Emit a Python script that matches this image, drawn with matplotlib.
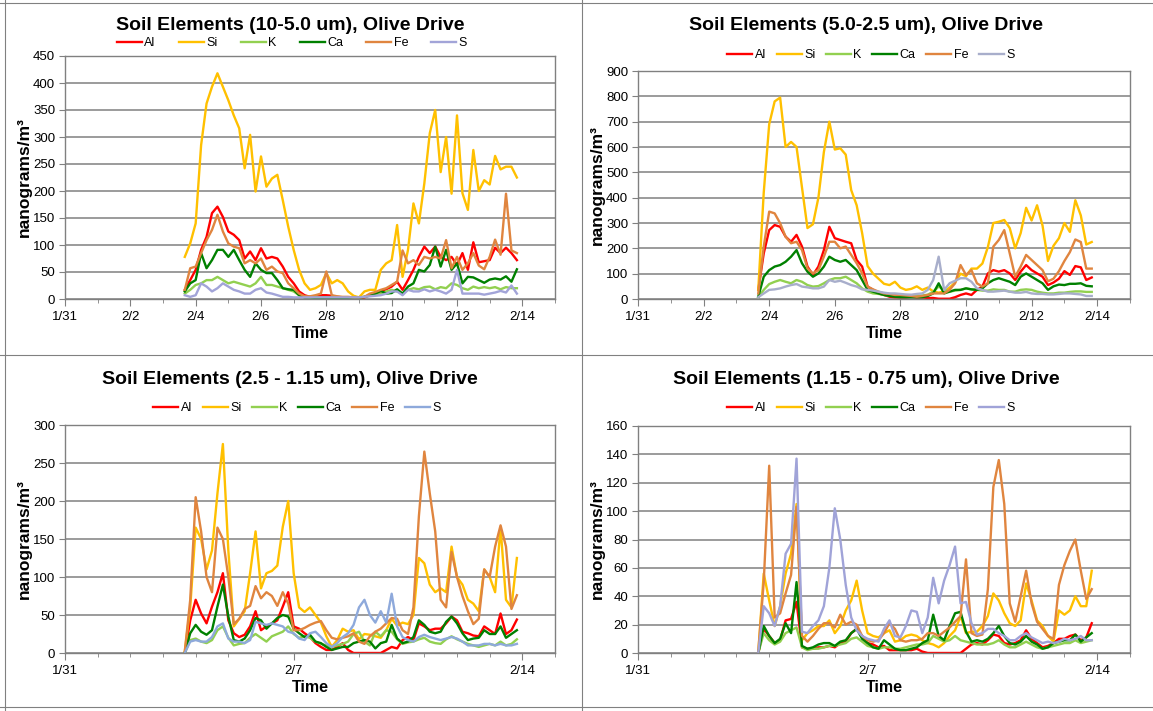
import matplotlib
matplotlib.use("Agg")
import matplotlib.pyplot as plt
import matplotlib.dates as mdates
from matplotlib.lines import Line2D
from matplotlib.ticker import FuncFormatter, MultipleLocator
import pandas as pd

plt.rcParams['font.family'] = ['Liberation Sans', 'DejaVu Sans']

# 4-hour samples, 2/3 16:00 -> 2/13 20:00
times = pd.date_range("2012-02-03 16:00", periods=62, freq="4h")
elements = ["Al", "Si", "K", "Ca", "Fe", "S"]

# ---- 10-5.0 um ----
p1_al = [17, 35, 54, 91, 115, 159, 171, 152, 125, 119,
         109, 75, 88, 72, 94, 75, 78, 75, 60, 41,
         29, 14, 7, 4, 4, 7, 7, 6, 4, 3,
         3, 3, 1, 3, 7, 10, 14, 18, 23, 32,
         17, 35, 54, 78, 97, 85, 97, 78, 72, 78,
         63, 85, 54, 105, 68, 70, 72, 95, 85, 95,
         85, 72]
p1_si = [78, 103, 140, 285, 362, 393, 418, 393, 368, 340,
         316, 242, 304, 199, 264, 208, 223, 230, 183, 134,
         91, 54, 29, 17, 20, 26, 48, 29, 35, 29,
         14, 6, 3, 14, 17, 17, 54, 66, 72, 137,
         41, 91, 177, 140, 214, 307, 350, 235, 300, 195,
         340, 196, 165, 276, 200, 220, 212, 265, 240, 245,
         245, 225]
p1_k = [10, 17, 26, 29, 35, 35, 41, 35, 29, 32,
        29, 26, 23, 29, 41, 26, 26, 23, 20, 17,
        14, 7, 4, 3, 3, 3, 3, 3, 3, 3,
        3, 3, 3, 4, 6, 8, 10, 14, 17, 14,
        10, 17, 20, 18, 22, 23, 18, 22, 20, 29,
        26, 20, 17, 23, 20, 22, 20, 22, 18, 22,
        20, 20]
p1_ca = [14, 29, 35, 85, 57, 72, 91, 91, 78, 91,
         72, 54, 41, 66, 54, 48, 48, 35, 20, 18,
         17, 7, 3, 3, 2, 2, 2, 2, 2, 2,
         2, 2, 2, 4, 7, 10, 15, 10, 11, 18,
         10, 23, 29, 54, 51, 63, 97, 60, 91, 54,
         66, 29, 41, 40, 35, 30, 36, 38, 36, 42,
         32, 55]
p1_fe = [17, 57, 60, 85, 109, 128, 156, 125, 103, 97,
         94, 66, 72, 66, 75, 54, 60, 51, 48, 29,
         20, 10, 5, 5, 7, 10, 51, 7, 5, 4,
         4, 3, 3, 4, 10, 13, 17, 20, 26, 32,
         90, 66, 72, 63, 78, 75, 78, 75, 109, 57,
         78, 54, 66, 85, 62, 55, 78, 110, 82, 195,
         90, 85]
p1_s = [7, 4, 7, 29, 23, 14, 20, 29, 23, 17,
        14, 10, 10, 17, 20, 12, 10, 7, 4, 4,
        3, 3, 3, 3, 3, 3, 3, 3, 3, 3,
        3, 3, 3, 4, 5, 6, 7, 10, 14, 14,
        7, 17, 14, 14, 18, 14, 17, 14, 10, 17,
        54, 10, 10, 10, 10, 8, 10, 12, 15, 12,
        25, 10]

# ---- 5.0-2.5 um ----
p2_al = [36, 180, 272, 292, 285, 246, 226, 253, 207, 128,
         95, 128, 193, 285, 240, 233, 226, 220, 154, 128,
         49, 36, 22, 16, 9, 7, 7, 7, 9, 7,
         7, 4, 4, 1, 1, 1, 7, 16, 22, 16,
         36, 49, 101, 114, 108, 114, 101, 75, 108, 134,
         114, 101, 88, 55, 65, 80, 110, 95, 130, 125,
         75, 85]
p2_si = [36, 420, 690, 780, 795, 600, 620, 600, 440, 280,
         295, 400, 580, 700, 590, 595, 570, 430, 370, 260,
         130, 100, 80, 60, 55, 68, 45, 36, 40, 50,
         36, 45, 30, 25, 30, 45, 65, 100, 90, 120,
         120, 140, 205, 300, 305, 312, 280, 200, 260, 360,
         310, 370, 290, 150, 210, 240, 300, 265, 390, 330,
         215, 225]
p2_k = [7, 36, 59, 68, 75, 68, 62, 75, 68, 55,
        49, 51, 62, 75, 82, 82, 88, 75, 62, 42,
        29, 22, 20, 16, 14, 14, 12, 12, 12, 12,
        14, 17, 29, 49, 36, 29, 33, 36, 42, 38,
        36, 33, 33, 38, 36, 36, 29, 29, 36, 38,
        36, 29, 25, 22, 22, 25, 25, 28, 30, 30,
        28, 28]
p2_ca = [9, 88, 114, 128, 134, 147, 167, 193, 141, 108,
         88, 101, 128, 167, 154, 147, 154, 134, 114, 75,
         36, 29, 22, 16, 12, 9, 7, 7, 7, 7,
         7, 12, 22, 62, 22, 29, 36, 36, 42, 38,
         36, 42, 62, 75, 82, 75, 68, 55, 88, 101,
         88, 75, 62, 36, 50, 57, 55, 60, 60, 62,
         52, 50]
p2_fe = [22, 207, 345, 338, 299, 246, 220, 226, 193, 121,
         101, 114, 167, 226, 226, 200, 207, 174, 141, 101,
         49, 38, 29, 22, 20, 16, 16, 14, 12, 9,
         12, 16, 22, 22, 22, 36, 62, 134, 95, 114,
         62, 49, 62, 207, 233, 272, 180, 88, 128, 174,
         154, 134, 114, 70, 80, 110, 150, 185, 235, 225,
         120, 120]
p2_s = [7, 22, 36, 38, 42, 49, 55, 59, 49, 46,
        42, 42, 49, 75, 68, 72, 64, 55, 49, 38,
        36, 33, 29, 25, 22, 22, 20, 18, 17, 20,
        22, 36, 75, 167, 36, 62, 72, 82, 82, 68,
        42, 36, 29, 29, 31, 33, 29, 25, 25, 28,
        22, 20, 20, 18, 18, 20, 22, 22, 20, 18,
        12, 12]

# ---- 2.5-1.15 um ----
p3_al = [0, 43, 70, 52, 39, 61, 80, 105, 43, 26,
         21, 24, 35, 55, 30, 35, 39, 43, 61, 80,
         35, 32, 26, 21, 13, 8, 4, 4, 8, 13,
         4, 0, 0, 0, 0, 0, 0, 4, 8, 6,
         17, 21, 17, 39, 35, 30, 32, 32, 39, 48,
         43, 28, 26, 23, 22, 35, 30, 25, 52, 25,
         30, 44]
p3_si = [2, 60, 165, 150, 110, 135, 210, 275, 135, 35,
         45, 55, 105, 160, 85, 105, 108, 115, 166, 200,
         105, 60, 54, 60, 50, 40, 22, 8, 17, 32,
         28, 30, 18, 25, 24, 22, 20, 30, 45, 36,
         40, 38, 50, 125, 118, 90, 80, 85, 80, 140,
         100, 90, 70, 65, 55, 110, 100, 80, 165, 70,
         60, 125]
p3_k = [0, 17, 19, 15, 13, 17, 30, 35, 20, 10,
        12, 13, 20, 25, 20, 15, 22, 25, 28, 35,
        25, 20, 22, 20, 15, 12, 10, 8, 10, 12,
        15, 25, 28, 15, 10, 28, 22, 30, 28, 18,
        12, 14, 15, 18, 20, 15, 13, 12, 18, 22,
        18, 15, 12, 10, 8, 10, 12, 10, 15, 10,
        12, 18]
p3_ca = [0, 26, 37, 28, 24, 30, 61, 90, 48, 17,
         15, 19, 30, 46, 43, 32, 39, 46, 50, 48,
         32, 26, 21, 24, 15, 13, 8, 4, 6, 8,
         8, 13, 15, 17, 15, 6, 13, 15, 37, 19,
         13, 15, 21, 43, 37, 28, 26, 28, 41, 48,
         39, 26, 17, 19, 20, 30, 25, 25, 35, 20,
         25, 30]
p3_fe = [2, 70, 205, 160, 100, 80, 165, 150, 100, 38,
         45, 58, 62, 88, 72, 80, 75, 62, 80, 65,
         30, 30, 33, 37, 40, 42, 30, 20, 18, 20,
         22, 26, 15, 12, 22, 28, 32, 39, 46, 45,
         30, 25, 60, 180, 265, 210, 160, 70, 60, 133,
         100, 75, 55, 38, 45, 110, 100, 140, 168, 140,
         58, 76]
p3_s = [0, 15, 17, 15, 15, 21, 35, 39, 19, 15,
        15, 13, 17, 41, 39, 37, 39, 37, 35, 28,
        26, 19, 17, 26, 28, 21, 13, 8, 13, 21,
        26, 37, 60, 70, 50, 40, 55, 40, 78, 35,
        21, 17, 15, 21, 24, 21, 19, 17, 19, 21,
        19, 15, 10, 10, 10, 12, 12, 10, 12, 10,
        10, 12]

# ---- 1.15-0.75 um ----
p4_al = [0, 17, 12, 7, 9, 23, 24, 36, 4, 3,
         3, 4, 4, 5, 4, 7, 8, 14, 17, 12,
         7, 6, 4, 5, 2, 2, 2, 2, 2, 3,
         1, 0, 0, 0, 0, 0, 0, 0, 3, 6,
         7, 6, 9, 13, 12, 7, 6, 7, 9, 16,
         10, 7, 4, 5, 7, 10, 10, 12, 13, 9,
         11, 21]
p4_si = [0, 56, 37, 19, 33, 56, 70, 105, 9, 14,
         16, 19, 19, 23, 14, 19, 30, 37, 51, 30,
         14, 12, 11, 14, 16, 8, 9, 12, 13, 12,
         9, 7, 6, 4, 7, 12, 16, 26, 14, 15,
         15, 19, 26, 42, 37, 28, 21, 19, 23, 49,
         37, 23, 19, 12, 8, 30, 27, 30, 40, 33,
         33, 58]
p4_k = [0, 14, 9, 6, 8, 14, 16, 18, 4, 2,
        3, 3, 4, 5, 5, 6, 7, 10, 11, 8,
        5, 4, 3, 4, 4, 3, 3, 4, 5, 6,
        6, 7, 12, 10, 8, 9, 12, 9, 8, 7,
        6, 6, 6, 7, 9, 6, 4, 4, 6, 8,
        6, 4, 3, 4, 5, 6, 7, 7, 9, 7,
        8, 9]
p4_ca = [0, 19, 12, 7, 10, 21, 14, 50, 5, 3,
         4, 6, 7, 7, 5, 8, 9, 14, 17, 10,
         7, 4, 3, 9, 6, 3, 2, 2, 3, 4,
         7, 9, 27, 12, 9, 19, 28, 29, 15, 8,
         9, 8, 10, 14, 19, 12, 7, 6, 8, 12,
         8, 6, 3, 4, 7, 8, 9, 9, 13, 8,
         11, 14]
p4_fe = [1, 50, 132, 25, 28, 42, 55, 103, 12, 8,
         12, 17, 21, 21, 18, 27, 20, 22, 20, 12,
         9, 8, 9, 14, 21, 17, 9, 8, 9, 9,
         10, 14, 14, 12, 15, 18, 22, 26, 66, 14,
         12, 13, 45, 117, 136, 105, 35, 22, 40, 58,
         35, 22, 17, 12, 10, 48, 62, 72, 80, 58,
         38, 45]
p4_s = [0, 33, 28, 19, 33, 70, 77, 137, 15, 14,
        19, 23, 33, 60, 102, 80, 48, 25, 16, 12,
        10, 9, 8, 17, 23, 12, 11, 19, 30, 29,
        14, 25, 53, 35, 51, 62, 75, 35, 36, 21,
        13, 14, 17, 17, 14, 12, 9, 9, 12, 14,
        11, 9, 7, 8, 7, 8, 10, 9, 10, 12,
        9, 9]

titles = ["Soil Elements (10-5.0 um), Olive Drive",
          "Soil Elements (5.0-2.5 um), Olive Drive",
          "Soil Elements (2.5 - 1.15 um), Olive Drive",
          "Soil Elements (1.15 - 0.75 um), Olive Drive"]
panel_data = [
    [p1_al, p1_si, p1_k, p1_ca, p1_fe, p1_s],
    [p2_al, p2_si, p2_k, p2_ca, p2_fe, p2_s],
    [p3_al, p3_si, p3_k, p3_ca, p3_fe, p3_s],
    [p4_al, p4_si, p4_k, p4_ca, p4_fe, p4_s],
]
y_max = [450, 900, 300, 160]
y_step = [50, 100, 50, 20]
x_step = [2, 2, 7, 7]

colors = ["#FF0000", "#FFC000", "#92D050", "#008000", "#E0853F"]
s_colors = ["#A2A4D8", "#A8AECB", "#8EA9DB", "#A0A3D8"]

W, H = 1153, 711
fig = plt.figure(figsize=(W / 100, H / 100), dpi=100)

# plot areas in pixels: left, top, right, bottom
boxes = [(65, 56, 555, 299), (638, 71, 1130, 299),
         (65, 425, 555, 653), (638, 426, 1130, 653)]
title_pos = [(290, 25), (866, 25), (290, 379), (866, 379)]
legend_pos = [(292, 43), (871, 55), (297, 408), (871, 408)]
legend_gap = [1.85, 0.85, 0.85, 0.85]

x0 = mdates.date2num(pd.Timestamp("2012-01-31"))
date_fmt = FuncFormatter(lambda v, p: "%d/%d" % (mdates.num2date(v).month,
                                                  mdates.num2date(v).day))
grey = "#808080"

for n in range(4):
    l, t, r, b = boxes[n]
    ax = fig.add_axes([l / W, 1 - b / H, (r - l) / W, (b - t) / H])
    lines = []
    for k, el in enumerate(elements):
        c = s_colors[n] if el == "S" else colors[k]
        ln, = ax.plot(times, panel_data[n][k], color=c, lw=1.7, label=el)
        lines.append(ln)

    ax.set_xlim(x0, x0 + 15)
    ax.set_xticks([x0 + d for d in range(0, 15, x_step[n])])
    ax.xaxis.set_minor_locator(MultipleLocator(1))
    ax.xaxis.set_major_formatter(date_fmt)
    ax.set_ylim(0, y_max[n])
    ax.yaxis.set_major_locator(MultipleLocator(y_step[n]))
    ax.grid(axis="y", color=grey, lw=1.1)
    ax.set_axisbelow(True)
    for sp in ax.spines.values():
        sp.set_color(grey)
        sp.set_linewidth(1.0)
    ax.tick_params(axis="both", which="major", labelsize=9.5, color=grey,
                   length=4, direction="out", pad=3)
    ax.tick_params(axis="x", which="minor", color=grey, length=3)
    ax.tick_params(axis="x", which="major", length=5, pad=4)
    ax.set_xlabel("Time", fontsize=11.5, fontweight="bold")
    ax.xaxis.set_label_coords(0.5, -27 / (b - t))
    ax.set_ylabel("nanograms/m³", fontsize=12.5, fontweight="bold")
    ax.yaxis.set_label_coords(-33 / (r - l), 0.5)

    tx, ty = title_pos[n]
    fig.text(tx / W, 1 - ty / H, titles[n], ha="center", va="center",
             fontsize=14, fontweight="bold")
    lx, ly = legend_pos[n]
    fig.legend(lines, elements, loc="center", bbox_to_anchor=(lx / W, 1 - ly / H),
               ncol=6, frameon=False, fontsize=9, handlelength=2.0,
               handletextpad=0.2, columnspacing=legend_gap[n], borderpad=0)

# cell borders
border = dict(color=grey, lw=0.8, transform=fig.transFigure)
fig.add_artist(Line2D([5 / W, 5 / W], [0, 1], **border))
fig.add_artist(Line2D([582 / W, 582 / W], [0, 1], **border))
fig.add_artist(Line2D([0, 1], [1 - 3 / H, 1 - 3 / H], **border))
fig.add_artist(Line2D([0, 1], [1 - 355 / H, 1 - 355 / H], **border))
fig.add_artist(Line2D([0, 1], [1 - 707 / H, 1 - 707 / H], **border))

fig.savefig("out.png", dpi=100)
